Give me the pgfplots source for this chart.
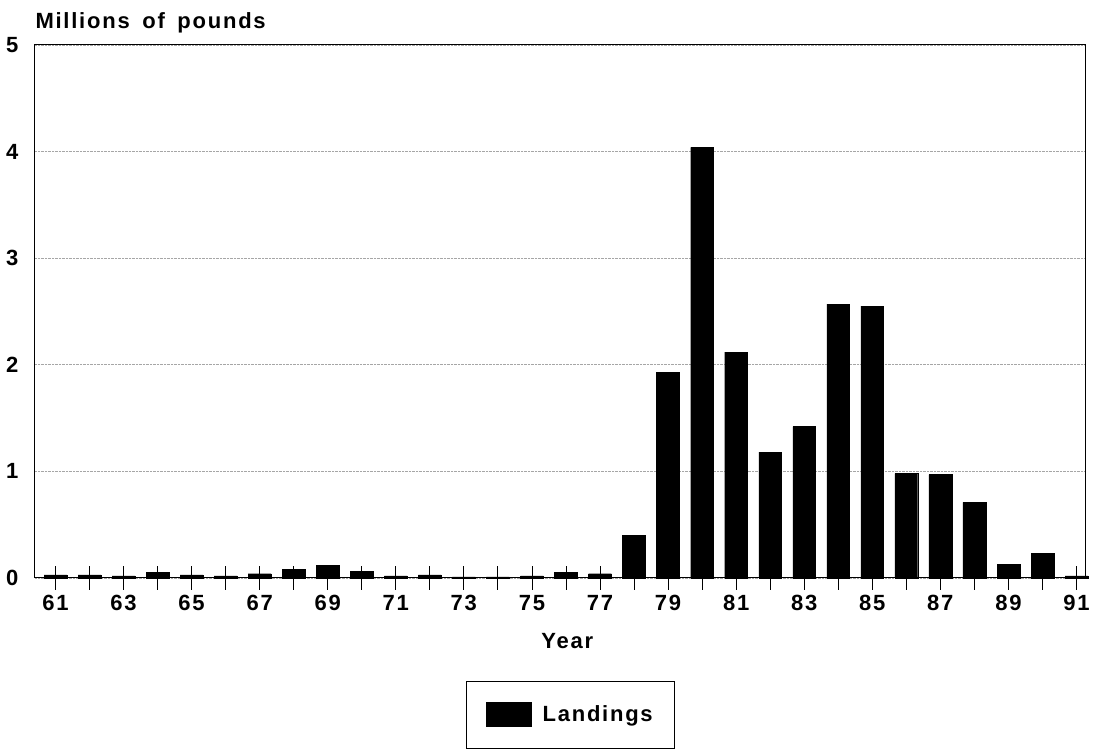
\documentclass[border=0pt]{standalone}
\usepackage{fontspec}
\setmainfont{Liberation Sans}[UprightFont={* Bold}, LetterSpace=8, WordSpace=1.6]
\usepackage{pgfplots}
\pgfplotsset{compat=1.18}
\pgfplotstableread{
year val
61 0.03
62 0.03
63 0.02
64 0.05
65 0.03
66 0.02
67 0.04
68 0.08
69 0.12
70 0.06
71 0.02
72 0.03
73 0.01
74 0.01
75 0.02
76 0.05
77 0.04
78 0.40
79 1.93
80 4.04
81 2.12
82 1.18
83 1.42
84 2.57
85 2.55
86 0.98
87 0.97
88 0.71
89 0.13
90 0.23
91 0.02
}\landings
\begin{document}
\begin{tikzpicture}
\begin{axis}[
  scale only axis, width=1050pt, height=533pt,
  xmin=60.4, xmax=91.25, ymin=0, ymax=5,
  clip=false,
  ytick={0,1,2,3,4,5},
  ymajorgrids,
  major grid style={densely dotted, gray!70, line width=0.6pt},
  ytick style={draw=none},
  xtick={61,...,91},
  xticklabels={61,,63,,65,,67,,69,,71,,73,,75,,77,,79,,81,,83,,85,,87,,89,,91},
  xtick pos=bottom,
  tick align=center,
  xtick style={black, line width=0.8pt},
  major tick length=24pt,
  axis line style={line width=1pt},
  ticklabel style={font=\fontsize{22}{24}\selectfont},
  xticklabel style={yshift=-2pt},
  yticklabel style={xshift=-1pt},
  /pgf/number format/assume math mode=true,
  xlabel={Year},
  xlabel style={font=\fontsize{22}{24}\selectfont, at={(rel axis cs:0.507,0)}, anchor=center, yshift=-63pt},
  legend style={at={(0.51,-0.193)}, anchor=north, draw=black, line width=0.7pt,
    font=\fontsize{22}{24}\selectfont, inner xsep=20pt, inner ysep=21pt},
  legend image code/.code={\fill[black] (0pt,-12pt) rectangle (45pt,12pt); \path[draw=none,fill=none] (0pt,0pt) -- (54pt,0pt);},
]
\addplot[ybar, bar width=0.67, fill=black, draw=black] table[x=year, y=val] {\landings};
\addlegendentry{Landings}
\path ([xshift=-35pt,yshift=-172pt]rel axis cs:0,0) rectangle ([xshift=19pt,yshift=45pt]rel axis cs:1,1);
\node[anchor=base west, font=\fontsize{22}{24}\selectfont] at ([xshift=-3pt,yshift=16pt]rel axis cs:0,1) {Millions of pounds};
\end{axis}
\end{tikzpicture}
\end{document}
